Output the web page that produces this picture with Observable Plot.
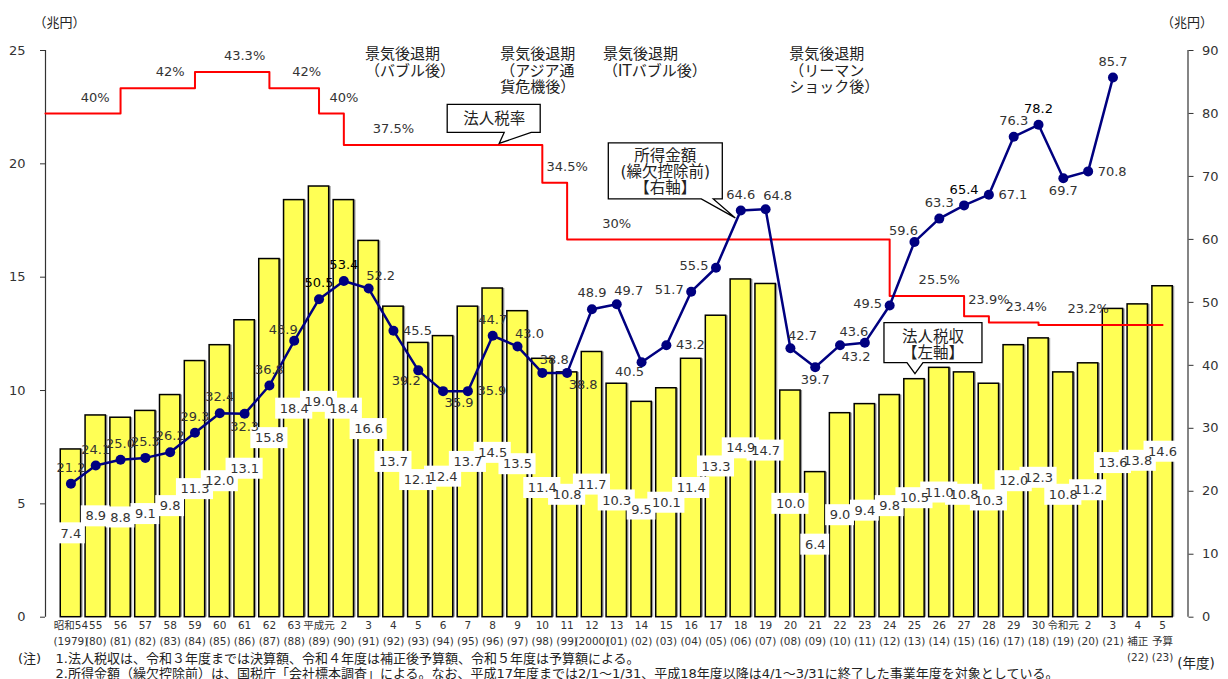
<!DOCTYPE html>
<html>
<head>
<meta charset="utf-8">
<script src="https://cdn.jsdelivr.net/npm/d3@7"></script>
<script src="https://cdn.jsdelivr.net/npm/@observablehq/plot@0.6"></script>
<style>
  html, body { margin: 0; padding: 0; background: #fff; }
  #chart svg { display: block; }
</style>
</head>
<body>
<div id="chart"></div>
<script>
// ---------------- data ----------------
const fiscalYears = ["昭和54","55","56","57","58","59","60","61","62","63","平成元","2","3","4","5","6","7","8","9","10","11","12","13","14","15","16","17","18","19","20","21","22","23","24","25","26","27","28","29","30","令和元","2","3","4","5"];
const westernYears = ["(1979)","(80)","(81)","(82)","(83)","(84)","(85)","(86)","(87)","(88)","(89)","(90)","(91)","(92)","(93)","(94)","(95)","(96)","(97)","(98)","(99)","(2000)","(01)","(02)","(03)","(04)","(05)","(06)","(07)","(08)","(09)","(10)","(11)","(12)","(13)","(14)","(15)","(16)","(17)","(18)","(19)","(20)","(21)","補正\n(22)","予算\n(23)"];

// 法人税収（兆円, 左軸）
const corporateTaxRevenue = [7.4,8.9,8.8,9.1,9.8,11.3,12.0,13.1,15.8,18.4,19.0,18.4,16.6,13.7,12.1,12.4,13.7,14.5,13.5,11.4,10.8,11.7,10.3,9.5,10.1,11.4,13.3,14.9,14.7,10.0,6.4,9.0,9.4,9.8,10.5,11.0,10.8,10.3,12.0,12.3,10.8,11.2,13.6,13.8,14.6];

// 所得金額（繰欠控除前）（兆円, 右軸） 昭和54〜令和3
const incomeAmount = [21.2,24.1,25.0,25.3,26.2,29.3,32.4,32.3,36.8,43.9,50.5,53.4,52.2,45.5,39.2,35.9,35.9,44.7,43.0,38.8,38.8,48.9,49.7,40.5,43.2,51.7,55.5,64.6,64.8,42.7,39.7,43.2,43.6,49.5,59.6,63.3,65.4,67.1,76.3,78.2,69.7,70.8,85.7];
const incomeEmphasis = [10, 11, 36, 39];   // 太字の値（ピーク）
const incomeLabelSide = ["t","t","t","t","t","t","t","b","t","tl","t","t","tr","r","bl","br","r","t","tr","tr","br","t","tr","bl","r","l","l","t","tr","tr","b","br","tl","l","tl","t","t","r","t","t","b","r","t"];

// 法人税率（%）
const taxRate = [40,40,42,42,42,43.3,43.3,43.3,42,42,40,37.5,37.5,37.5,37.5,37.5,37.5,37.5,37.5,34.5,30,30,30,30,30,30,30,30,30,30,30,30,30,25.5,25.5,25.5,23.9,23.4,23.4,23.2,23.2,23.2,23.2,23.2,23.2];

const leftTicks = [0,5,10,15,20,25];
const rightTicks = [0,10,20,30,40,50,60,70,80,90];

const recessionLabels = ["景気後退期\n（バブル後）","景気後退期\n（アジア通\n貨危機後）","景気後退期\n（ITバブル後）","景気後退期\n（リーマン\nショック後）"];
const recessionAt = [11.85, 17.3, 21.45, 28.95];

const note1 = "1.法人税収は、令和３年度までは決算額、令和４年度は補正後予算額、令和５年度は予算額による。";
const note2 = "2.所得金額（繰欠控除前）は、国税庁「会社標本調査」による。なお、平成17年度までは2/1～1/31、平成18年度以降は4/1～3/31に終了した事業年度を対象としている。";

// ---------------- layout ----------------
const LEFT_MAX = 25, RIGHT_MAX = 90, RATE_MAX = 45;
const xDomain = [-1.025, 45.025];
const toLeft = v => v * LEFT_MAX / RIGHT_MAX;
const rateToLeft = r => r * LEFT_MAX / RATE_MAX;
const FONT = "'DejaVu Sans', 'Noto Sans CJK JP', sans-serif";
const TXT = "#333";

const bars = corporateTaxRevenue.map((v, i) => ({i, v}));
const income = incomeAmount.map((v, i) => ({i, v, side: incomeLabelSide[i], bold: incomeEmphasis.includes(i)}));
const rateLine = [{i: xDomain[0], r: taxRate[0]}, ...taxRate.map((r, i) => ({i, r}))];

// rate segments for labels
const rateSegs = [];
taxRate.forEach((r, i) => { if (i === 0 || r !== taxRate[i - 1]) rateSegs.push({r, start: i === 0 ? xDomain[0] : i}); });
rateSegs.forEach((s, k) => {
  s.end = k < rateSegs.length - 1 ? rateSegs[k + 1].start : taxRate.length - 1;
  s.at = s.start + Math.min(2, (s.end - s.start) / 2 + 0.5);
});

// bar label box width (in x units) estimated from text length
const pxPerX = (1228 - 45 - 40.5) / (xDomain[1] - xDomain[0]);
const pxPerY = (679 - 50 - 62.3) / LEFT_MAX;
const labelW = s => ((s.replace(".", "").length) * 8.3 + 4.2 + 8) / pxPerX;
const labelH = 21 / pxPerY;

const sideOffset = {t: [0, -16], b: [0, 13], l: [-22, -2], r: [24, 0], tl: [-11, -11], tr: [12, -13], bl: [-12, 10], br: [16, 12]};

function callout(spec) {
  return (index, scales) => {
    const X = scales.x(spec.x) + spec.dx, Y = scales.y(spec.y) + spec.dy;
    const [l, t, r, b] = spec.box, [b1, b2] = spec.tail;
    const g = d3.create("svg:g").attr("transform", `translate(${X},${Y})`);
    g.append("path")
      .attr("d", `M${l},${t}H${r}V${b}H${b2}L0,0L${b1},${b}H${l}Z`)
      .attr("fill", "white").attr("stroke", "#000").attr("stroke-width", 1.3);
    const text = g.append("text").attr("text-anchor", "middle").attr("font-size", 15.5)
      .attr("font-family", FONT).attr("fill", "#222");
    spec.lines.forEach((s, k) => text.append("tspan").attr("x", spec.tx).attr("y", spec.ty + k * spec.lh).attr("dy", "0.35em").text(s));
    return g.node();
  };
}

const marks = [
  // bars (shadow + bar)
  Plot.rect(bars, {x1: d => d.i - 0.41, x2: d => d.i + 0.41, y1: () => 0, y2: "v", fill: "#9a9a9a", dx: 2, dy: 0}),
  Plot.rect(bars, {x1: d => d.i - 0.41, x2: d => d.i + 0.41, y1: () => 0, y2: "v", fill: "#FFFF55", stroke: "#000", strokeWidth: 1.5}),
  // bar labels with white boxes
  Plot.rect(bars, {
    x1: d => d.i - labelW(d.v.toFixed(1)) / 2, x2: d => d.i + labelW(d.v.toFixed(1)) / 2,
    y1: d => d.v / 2 - labelH / 2, y2: d => d.v / 2 + labelH / 2, fill: "white"
  }),
  Plot.text(bars, {x: "i", y: d => d.v / 2, text: d => d.v.toFixed(1), fill: TXT, fontSize: 13}),
  // axis lines
  Plot.ruleX([xDomain[0]], {y1: 0, y2: LEFT_MAX, stroke: "#333", strokeWidth: 1.2}),
  Plot.ruleX([xDomain[1]], {y1: 0, y2: LEFT_MAX, stroke: "#333", strokeWidth: 1.2}),
  Plot.axisY(leftTicks, {anchor: "left", tickSize: 5, tickPadding: 15, fontSize: 13, label: null, color: "#333"}),
  Plot.axisY(rightTicks.map(toLeft), {anchor: "right", tickSize: 5, tickPadding: 9, fontSize: 13, label: null, color: "#333",
    tickFormat: d => String(Math.round(d * RIGHT_MAX / LEFT_MAX))}),
  Plot.axisX(d3.range(fiscalYears.length), {anchor: "bottom", tickSize: 0, tickPadding: 1, fontSize: 10.5, label: null, color: "#333",
    lineHeight: 1.5, tickFormat: i => fiscalYears[i] + "\n" + westernYears[i]}),
  // tax rate step line
  Plot.line(rateLine, {x: "i", y: d => rateToLeft(d.r), curve: "step-after", stroke: "#ff0000", strokeWidth: 2}),
  Plot.text(rateSegs, {x: "at", y: d => rateToLeft(d.r), text: d => d.r + "%", dy: -16, fill: TXT, fontSize: 13}),
  // income line
  Plot.line(income, {x: "i", y: d => toLeft(d.v), stroke: "#000080", strokeWidth: 2.5}),
  Plot.dot(income, {x: "i", y: d => toLeft(d.v), r: 5, fill: "#000080"}),
  ...Object.entries(sideOffset).map(([side, [dx, dy]]) =>
    Plot.text(income.filter(d => d.side === side), {
      x: "i", y: d => toLeft(d.v), text: d => d.v.toFixed(1), dx, dy,
      fill: d => d.bold ? "#000" : TXT, fontWeight: d => d.bold ? "bold" : "normal", fontSize: 13
    })),
  // recession annotations
  Plot.text(recessionLabels, {x: (d, k) => recessionAt[k], text: d => d, frameAnchor: "top", textAnchor: "start",
    lineAnchor: "top", dy: -3, fontSize: 15, lineHeight: 1.1, fill: "#222"}),
  // callouts
  callout({x: 17, y: rateToLeft(37.5), dx: 7, dy: -1, box: [-52, -39, 41, -11], tail: [5, 32],
    lines: ["法人税率"], tx: -5, ty: -25, lh: 17}),
  callout({x: 27, y: toLeft(64.6), dx: -5, dy: 8, box: [-127, -75, -13, -19], tail: [-34, -22],
    lines: ["所得金額", "(繰欠控除前)", "【右軸】"], tx: -70, ty: -62, lh: 16}),
  callout({x: 34, y: 10.5, dx: 1, dy: -5, box: [-31, -51, 67, -11], tail: [-8, 8],
    lines: ["法人税収", "【左軸】"], tx: 18, ty: -37, lh: 16}),
  // unit labels
  Plot.text(["（兆円）"], {frameAnchor: "top-left", textAnchor: "middle", dx: 14, dy: -33, fontSize: 13, fill: "#222"}),
  Plot.text(["（兆円）"], {frameAnchor: "top-right", textAnchor: "middle", dx: -1, dy: -33, fontSize: 13, fill: "#222"}),
  Plot.text(["(年度)"], {frameAnchor: "bottom-right", textAnchor: "middle", dx: 8, dy: 51, fontSize: 13.5, fill: "#222"}),
  // notes
  Plot.text(["(注)"], {frameAnchor: "bottom-left", textAnchor: "middle", dx: -16, dy: 46, fontSize: 13, fill: "#222"}),
  Plot.text([note1], {frameAnchor: "bottom-left", textAnchor: "start", dx: 10, dy: 46, fontSize: 13, fill: "#222"}),
  Plot.text([note2], {frameAnchor: "bottom-left", textAnchor: "start", dx: 10, dy: 61, fontSize: 13, fill: "#222"})
];

const chart = Plot.plot({
  width: 1228,
  height: 679,
  marginTop: 50,
  marginBottom: 62.3,
  marginLeft: 45,
  marginRight: 40.5,
  x: {type: "linear", domain: xDomain},
  y: {type: "linear", domain: [0, LEFT_MAX]},
  style: {fontFamily: FONT, fontSize: "13px", background: "white", overflow: "visible", color: "#333"},
  marks
});
document.getElementById("chart").append(chart);
</script>
</body>
</html>
